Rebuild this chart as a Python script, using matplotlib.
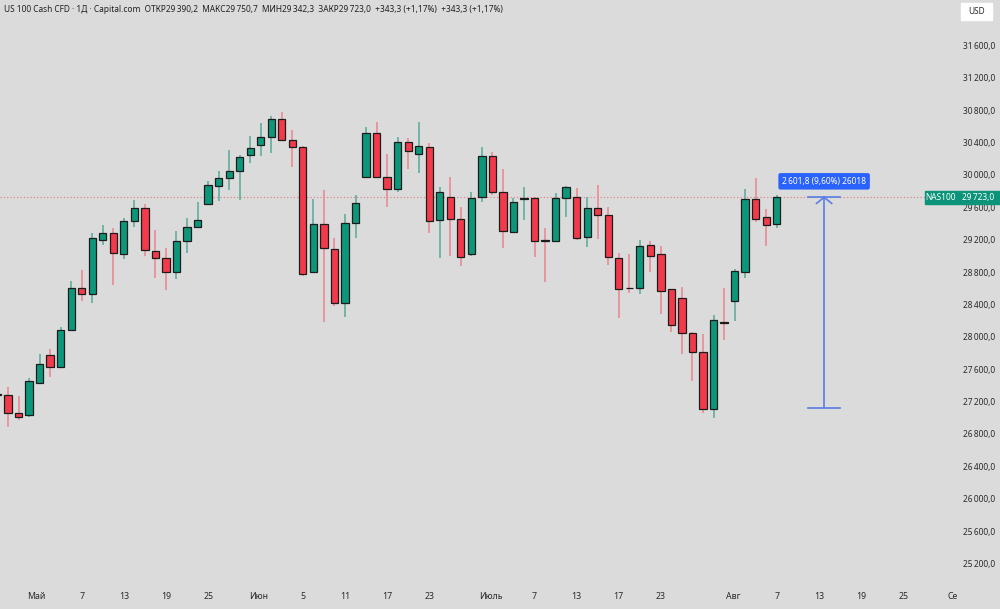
import matplotlib
matplotlib.use("Agg")
import matplotlib.pyplot as plt
from matplotlib.patches import Rectangle
from matplotlib.transforms import blended_transform_factory

plt.rcParams["font.family"] = ["Noto Sans", "DejaVu Sans"]

BG = "#dbdbdb"
UP = "#0c977b"
DOWN = "#f23a4a"
UP_WICK = "#5fae9c"
DOWN_WICK = "#ea8a92"
EDGE = "#1c1c1c"
TEXT = "#2a2a2a"

SYMBOL = "NAS100"
TITLE = ("US 100 Cash CFD \u00b7 1\u0414 \u00b7 Capital.com  \u041e\u0422\u041a\u042029\u2009390,2  "
         "\u041c\u0410\u041a\u042129\u2009750,7  \u041c\u0418\u041d29\u2009342,3  "
         "\u0417\u0410\u041a\u042029\u2009723,0  +343,3 (+1,17%)  +343,3 (+1,17%)")

# daily bars, first one is cut off at the left edge
first_bar = -1
opens = [27290, 27281, 27055, 27030, 27426, 27779, 27631, 28080, 28607, 28525,
         29196, 29286, 29023, 29434, 29587, 29064, 28977, 28797, 29187, 29360,
         29644, 29866, 29965, 30051, 30245, 30365, 30468, 30694, 30427, 30341,
         28797, 29397, 29085, 28422, 29402, 29977, 30513, 29977, 29829, 30410,
         30254, 30348, 29439, 29723, 29455, 29023, 29723, 30237, 29792, 29298,
         29700, 29718, 29190, 29187, 29718, 29731, 29229, 29595, 29508, 28970,
         28605, 28599, 29134, 29019, 28587, 28479, 28051, 27812, 27112, 28178,
         28446, 28797, 29706, 29476, 29390.2]
highs = [27330, 27384, 27273, 27488, 27788, 27853, 28125, 28693, 28825, 29278,
         29377, 29348, 29464, 29690, 29640, 29319, 29093, 29311, 29471, 29669,
         29924, 30048, 30307, 30245, 30480, 30644, 30727, 30773, 30554, 30360,
         29704, 29813, 29217, 29517, 29748, 30595, 30657, 30258, 30464, 30452,
         30653, 30390, 29854, 29970, 29600, 29788, 30340, 30286, 30069, 29711,
         29854, 29725, 29340, 29780, 29860, 29834, 29723, 29875, 29607, 29032,
         29023, 29196, 29187, 29121, 28590, 28612, 28055, 28035, 28270, 28599,
         28841, 29822, 29957, 29575, 29750.7]
lows = [27240, 26883, 26973, 27015, 27420, 27507, 27625, 28075, 28446, 28414,
        29134, 28640, 28961, 29353, 29002, 28723, 28575, 28714, 29031, 29355,
        29640, 29677, 29813, 29690, 30143, 30233, 30274, 30430, 30101, 28747,
        28790, 28187, 28381, 28241, 29217, 29958, 29958, 29607, 29792, 30069,
        30027, 29278, 28970, 29000, 28874, 29002, 29665, 29751, 29093, 29278,
        29443, 28982, 28680, 29180, 29484, 29196, 29105, 29204, 28883, 28229,
        28537, 28529, 28804, 28282, 28056, 27784, 27458, 27063, 26994, 27961,
        28195, 28723, 29422, 29121, 29342.3]
closes = [27282, 27055, 27013, 27458, 27661, 27624, 28084, 28599, 28525, 29220,
          29286, 29032, 29434, 29587, 29076, 28970, 28797, 29187, 29360, 29446,
          29871, 29965, 30051, 30224, 30328, 30464, 30694, 30434, 30341, 28779,
          29399, 29091, 28422, 29402, 29656, 30513, 29970, 29822, 30402, 30295,
          30360, 29434, 29792, 29451, 28989, 29718, 30237, 29792, 29310, 29669,
          29706, 29187, 29184, 29718, 29854, 29217, 29595, 29508, 28982, 28590,
          28598, 29121, 28998, 28570, 28146, 28051, 27809, 27112, 28208, 28170,
          28809, 29698, 29459, 29377, 29723.0]

# time axis labels (bar positions)
date_pos = [2.7, 7, 11, 15, 19, 23.8, 28, 32, 36, 40, 45.9, 50, 54, 58, 62,
            68.9, 73, 77, 81, 85, 89.7]
date_labels = ["\u041c\u0430\u0439", "7", "13", "19", "25", "\u0418\u044e\u043d", "5", "11", "17", "23",
               "\u0418\u044e\u043b\u044c", "7", "13", "17", "23", "\u0410\u0432\u0433", "7", "13", "19", "25",
               "\u0421\u0435"]
months = {"\u041c\u0430\u0439", "\u0418\u044e\u043d", "\u0418\u044e\u043b\u044c", "\u0410\u0432\u0433", "\u0421\u0435"}

price_ticks = [25200, 25600, 26000, 26400, 26800, 27200, 27600, 28000, 28400,
               28800, 29200, 29600, 30000, 30400, 30800, 31200, 31600]

# price range measurement
range_low = 27121.2
range_high = 29723.0
range_label = "2\u2009601,8 (9,60%) 26018"


def fmt_price(v):
    return f"{v:,.1f}".replace(",", "\u2009").replace(".", ",")


fig = plt.figure(figsize=(10, 6.09), dpi=100, facecolor=BG)
ax = fig.add_axes([0, 23 / 609, 0.957, 1 - 23 / 609])
ax.set_facecolor(BG)

for k, (o, h, l, c) in enumerate(zip(opens, highs, lows, closes)):
    x = first_bar + k
    up = c >= o
    ax.vlines(x, l, h, color=UP_WICK if up else DOWN_WICK, lw=1.2, zorder=2)
    ax.bar(x, max(abs(c - o), 10), 0.69, min(o, c), color=UP if up else DOWN,
           edgecolor=EDGE, linewidth=0.9, zorder=3)

last_close = closes[-1]
ax.axhline(last_close, color="#e07a7a", lw=0.8, ls=(0, (1, 2)), zorder=1)

# measuring tool
mx = 77.5
ax.plot([mx, mx], [range_low, range_high], color="#5a7de6", lw=1.2, zorder=4)
ax.plot([76.0, 79.0], [range_high, range_high], color="#5a7de6", lw=1.2, zorder=4)
ax.plot([76.0, 79.0], [range_low, range_low], color="#5a7de6", lw=1.2, zorder=4)
ax.plot([mx - 0.72, mx, mx + 0.72], [range_high - 75, range_high, range_high - 75],
        color="#5a7de6", lw=1.2, zorder=4)
ax.annotate(range_label, xy=(mx, range_high), xytext=(0, 11.5), textcoords="offset points",
            ha="center", va="center", fontsize=6, color="white", zorder=6,
            bbox=dict(boxstyle="round,pad=0.45,rounding_size=0.25", fc="#2962ff", ec="none"))

ax.set_xlim(-0.76, 90.12)
ax.set_ylim(24922, 32160)
for s in ax.spines.values():
    s.set_visible(False)

ax.set_xticks(date_pos)
ax.set_xticklabels(date_labels)
for t in ax.get_xticklabels():
    if t.get_text() in months:
        t.set_fontweight("bold")
ax.tick_params(axis="x", length=0, labelsize=6.3, colors=TEXT, pad=4.5)

ax.yaxis.tick_right()
ax.set_yticks(price_ticks)
ax.set_yticklabels([fmt_price(p) for p in price_ticks])
ax.tick_params(axis="y", length=0, labelsize=6, colors=TEXT, pad=4.3)

# last price tags
tr = blended_transform_factory(fig.transFigure, ax.transData)
fig.add_artist(Rectangle((0.925, last_close - 83), 0.032, 166, transform=tr,
                         color="#0b9479", zorder=10))
fig.add_artist(Rectangle((0.957, last_close - 83), 0.043, 166, transform=tr,
                         color="#0b9479", zorder=10))
fig.text(0.941, last_close, SYMBOL, transform=tr, ha="center", va="center",
         fontsize=6, fontweight="bold", color="white", zorder=11)
fig.text(0.9785, last_close, fmt_price(last_close), transform=tr, ha="center", va="center",
         fontsize=6, fontweight="bold", color="white", zorder=11)

# currency box
fig.add_artist(Rectangle((0.961, 1 - 20 / 609), 0.031, 17 / 609, transform=fig.transFigure,
                         color="white", zorder=10))
fig.text(0.9765, 1 - 11.5 / 609, "USD", ha="center", va="center", fontsize=6, color=TEXT, zorder=11)

fig.text(0.004, 1 - 9 / 609, TITLE, ha="left", va="center", fontsize=6, color="#222222")

fig.savefig("out.png", dpi=100, facecolor=BG)
